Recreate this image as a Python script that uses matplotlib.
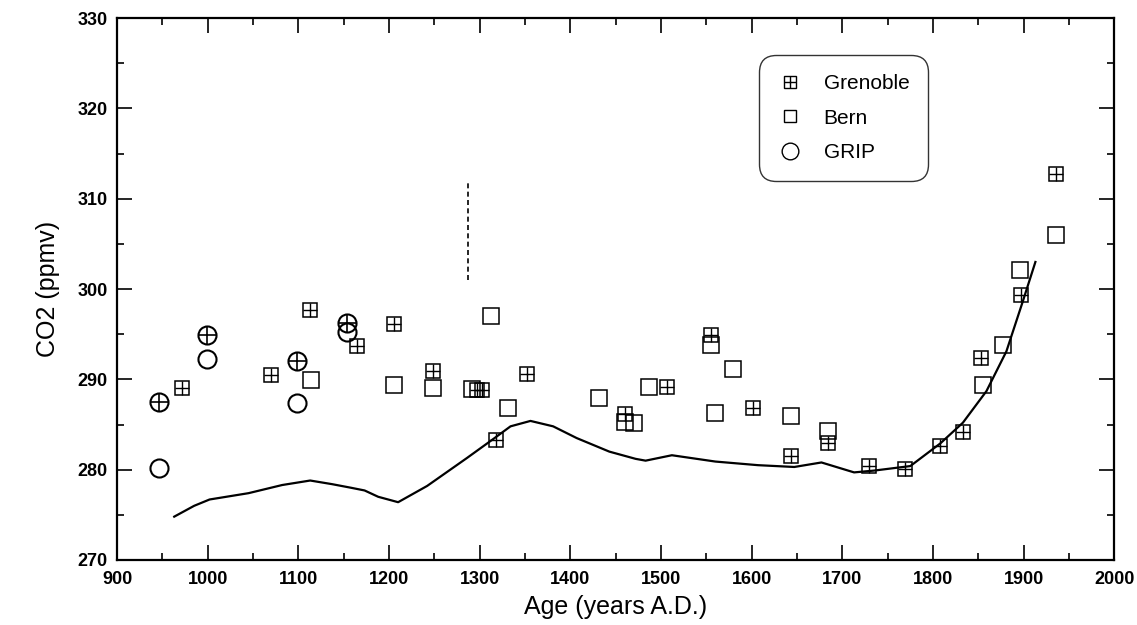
import matplotlib
matplotlib.use("Agg")
from matplotlib import pyplot as plt
from matplotlib.legend_handler import HandlerTuple
from matplotlib.ticker import MultipleLocator

plt.rcParams['font.family'] = ['Liberation Sans', 'DejaVu Sans']

# Grenoble measurements (square with cross)
gren_x = [972, 1070, 1113, 1165, 1205, 1248, 1297, 1303, 1318, 1352, 1460, 1507,
          1555, 1601, 1643, 1684, 1729, 1769, 1808, 1833, 1853, 1897, 1936]
gren_y = [289.0, 290.5, 297.7, 293.7, 296.1, 290.9, 288.8, 288.8, 283.3, 290.6, 286.2, 289.2,
          294.9, 286.8, 281.5, 282.9, 280.4, 280.1, 282.6, 284.2, 292.4, 299.3, 312.7]

# Bern measurements (open square)
bern_x = [1114, 1205, 1248, 1292, 1312, 1331, 1432, 1460, 1470, 1487, 1555, 1560,
          1579, 1643, 1684, 1855, 1877, 1896, 1936]
bern_y = [289.9, 289.4, 289.0, 288.9, 297.0, 286.8, 287.9, 285.3, 285.2, 289.2, 293.8, 286.3,
          291.1, 286.0, 284.3, 289.4, 293.8, 302.1, 306.0]

# GRIP measurements (circles), some drawn with a cross inside
grip_x = [946, 999, 1098, 1154]
grip_y = [280.2, 292.3, 287.4, 295.3]
grip_cross_x = [946, 999, 1098, 1154]
grip_cross_y = [287.5, 294.9, 292.0, 296.2]

# smoothed curve
curve_x = [963, 985, 1002, 1045, 1082, 1113, 1137, 1158, 1173, 1188, 1210, 1242,
           1286, 1315, 1334, 1356, 1381, 1407, 1443, 1472, 1483, 1512, 1560, 1607,
           1647, 1677, 1713, 1735, 1775, 1808, 1833, 1859, 1881, 1899, 1913]
curve_y = [274.8, 276.0, 276.7, 277.4, 278.3, 278.8, 278.4, 278.0, 277.7, 277.0, 276.4, 278.2,
           281.3, 283.4, 284.8, 285.4, 284.8, 283.5, 282.0, 281.2, 281.0, 281.6, 280.9, 280.5,
           280.3, 280.8, 279.7, 279.9, 280.4, 282.9, 285.2, 288.7, 293.1, 298.6, 303.0]

# dashed vertical bar near 1290
bar_x = [1287, 1287]
bar_y = [301, 312]

fig = plt.figure(figsize=(11.37, 6.25), dpi=100)
ax = fig.add_axes([0.103, 0.104, 0.877, 0.867])

ax.plot(curve_x, curve_y, color='k', lw=1.6)
ax.plot(bar_x, bar_y, color='k', lw=1.2, ls=(0, (3, 2)))

ms = 10
ax.plot(gren_x, gren_y, ls='none', marker='s', ms=ms, mfc='none', mec='k', mew=1.1)
ax.plot(gren_x, gren_y, ls='none', marker='+', ms=ms, mec='k', mew=1.0)
ax.plot(bern_x, bern_y, ls='none', marker='s', ms=ms + 1, mfc='none', mec='k', mew=1.1)
ax.plot(grip_x, grip_y, ls='none', marker='o', ms=13, mfc='none', mec='k', mew=1.5)
ax.plot(grip_cross_x, grip_cross_y, ls='none', marker='o', ms=13, mfc='none', mec='k', mew=1.5)
ax.plot(grip_cross_x, grip_cross_y, ls='none', marker='+', ms=13, mec='k', mew=1.2)

ax.set_xlim(900, 2000)
ax.set_ylim(270, 330)
ax.xaxis.set_major_locator(MultipleLocator(100))
ax.xaxis.set_minor_locator(MultipleLocator(50))
ax.yaxis.set_major_locator(MultipleLocator(10))
ax.yaxis.set_minor_locator(MultipleLocator(5))
ax.tick_params(which='both', direction='in', top=True, right=True, width=1.2)
ax.tick_params(which='major', length=11, labelsize=13)
ax.tick_params(axis='x', which='major', pad=8)
ax.tick_params(axis='y', which='major', pad=7)
ax.tick_params(which='minor', length=5)
for lab in ax.get_xticklabels() + ax.get_yticklabels():
    lab.set_fontweight('bold')
for s in ax.spines.values():
    s.set_linewidth(1.6)

ax.set_xlabel("Age (years A.D.)", fontsize=18, labelpad=5)
ax.set_ylabel("CO2 (ppmv)", fontsize=18, labelpad=12)

h_gren = (plt.Line2D([], [], ls='none', marker='s', ms=8, mfc='none', mec='k', mew=1.0),
          plt.Line2D([], [], ls='none', marker='+', ms=8, mec='k', mew=1.0))
h_bern = plt.Line2D([], [], ls='none', marker='s', ms=8, mfc='none', mec='k', mew=1.0)
h_grip = plt.Line2D([], [], ls='none', marker='o', ms=12, mfc='none', mec='k', mew=1.0)
leg = ax.legend([h_gren, h_bern, h_grip], ["Grenoble", "Bern", "GRIP"],
                handler_map={tuple: HandlerTuple(ndivide=1)},
                loc='upper left', bbox_to_anchor=(0.65, 0.92), fontsize=15,
                frameon=True, fancybox=True, handlelength=1.2, handletextpad=1.0,
                labelspacing=0.75, borderpad=0.6, borderaxespad=0)
leg.get_frame().set_edgecolor('k')
leg.get_frame().set_linewidth(1.0)
leg.get_frame().set_boxstyle('round', pad=0.3, rounding_size=0.8)

fig.savefig("out.png", dpi=100)
